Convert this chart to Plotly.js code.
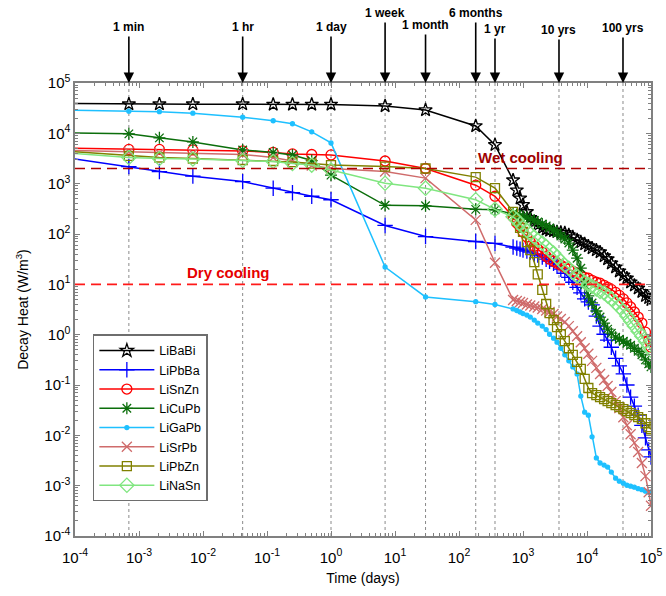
<!DOCTYPE html>
<html>
<head>
<meta charset="utf-8">
<script src="https://cdn.plot.ly/plotly-3.0.1.min.js"></script>
<style>
  html, body { margin: 0; padding: 0; background: #ffffff; }
  #chart { width: 666px; height: 596px; }
</style>
</head>
<body>
<div id="chart"></div>
<script>
// Decay heat after shutdown for eight lithium alloy breeders (W/m^3 vs days)

// Sample times in days: 1 s, 1 min, 3 min, 10 min, 1 h, 3 h, 6 h, 12 h, 1 d, 1 wk, 1 mo, 6 mo, 1 yr, then long-term
const TIME_DAYS = [
  1.157e-5, 6.944e-4, 2.083e-3, 6.944e-3, 0.04167, 0.125, 0.25, 0.5, 1, 7, 30, 182.5, 365,
  700, 800, 900, 1000, 1150, 1300, 1500, 1700, 2000, 2300, 2600, 3000, 3400, 3900, 4500,
  5200, 6000, 7000, 8000, 9200, 10500, 12000, 14000, 16000, 18500, 21000, 24000, 28000,
  32000, 37000, 42000, 48000, 55000, 63000, 72000, 82000, 92000, 100000
];

const LIBABI = [
  40000, 38000, 38000, 38000, 38000, 37500, 37500, 37500, 37500, 35000, 29000, 14000, 5900,
  1175, 741, 513, 380, 275, 209, 174, 151, 132, 123, 117, 115, 110, 107, 105,
  95.5, 87.1, 75.9, 69.2, 63.1, 57.5, 52.5, 47.9, 43.7, 36.3, 31.6, 26.3, 21.9,
  18.2, 15.1, 13.2, 11.0, 9.55, 8.32, 7.08, 5.89, 5.37, 4.90
];

const LIPBBA = [
  4600, 2190, 1740, 1410, 1100, 813, 661, 562, 479, 148, 89, 71, 65,
  55, 52.5, 50.1, 47.9, 45.7, 43.7, 39.8, 38.0, 34.7, 31.6, 28.8, 26.3, 22.9, 20.0, 16.6,
  13.8, 11.0, 8.71, 6.76, 5.13, 4.47, 3.89, 2.34, 1.48, 1.02, 0.776, 0.562, 0.339,
  0.240, 0.166, 0.100, 0.0575, 0.0380, 0.0251, 0.0158, 0.00891, 0.00513, 0.00372
];

const LISNZN = [
  5250, 4790, 4790, 4680, 4470, 4170, 3890, 3800, 3720, 2820, 2000, 933, 562,
  219, 166, 138, 110, 87.1, 69.2, 57.5, 50.1, 43.7, 36.3, 31.6, 28.8, 26.3, 24.0, 21.9,
  20.0, 18.2, 16.6, 15.1, 13.8, 13.2, 12.0, 11.0, 10.5, 9.55, 8.71, 7.94, 6.92,
  6.03, 5.13, 4.27, 3.55, 2.82, 2.24, 1.70, 1.12, 0.776, 0.562
];

const LICUPB = [
  10700, 9770, 8130, 6760, 4680, 4170, 3720, 2880, 1480, 372, 363, 309, 302,
  257, 245, 234, 224, 214, 200, 186, 174, 158, 145, 132, 120, 105, 91.2, 79.4,
  66.1, 47.9, 33.1, 20.9, 9.77, 5.89, 4.27, 2.95, 2.24, 1.70, 1.29, 1.07, 0.891,
  0.813, 0.741, 0.676, 0.617, 0.537, 0.468, 0.398, 0.316, 0.263, 0.229
];

const LIGAPB = [
  30000, 27500, 26900, 25100, 20900, 17800, 15500, 10700, 6460, 22.1, 5.62, 4.52, 3.98,
  3.24, 3.02, 2.82, 2.63, 2.45, 2.24, 1.95, 1.70, 1.48, 1.26, 1.02, 0.851, 0.708, 0.537, 0.398,
  0.302, 0.229, 0.166, 0.0603, 0.0288, 0.0251, 0.00933, 0.00355, 0.00282, 0.00257, 0.00234, 0.00186,
  0.00141, 0.00123, 0.00112, 0.00102, 0.000977, 0.000933, 0.000871, 0.000832, 0.000776, 0.000741, 0.000741
];

const LISRPB = [
  4900, 4270, 4070, 3980, 3800, 3310, 2820, 2290, 2000, 1740, 1290, 191, 26.9,
  4.90, 4.68, 4.47, 4.27, 3.98, 3.80, 3.63, 3.47, 3.24, 3.02, 2.82, 2.57, 2.29, 2.04, 1.78,
  1.48, 1.17, 0.933, 0.708, 0.537, 0.417, 0.302, 0.219, 0.166, 0.126, 0.0955, 0.0724, 0.0479,
  0.0347, 0.0229, 0.0158, 0.0105, 0.00708, 0.00468, 0.00282, 0.00155, 0.000741, 0.000398
];

const LIPBZN = [
  5200, 3550, 3310, 3160, 2950, 2820, 2690, 2510, 2340, 2190, 2000, 1350, 813,
  275, 182, 132, 110, 69.2, 47.9, 27.5, 15.8, 7.76, 4.07, 2.69, 1.95, 1.41, 1.02, 0.741,
  0.537, 0.398, 0.288, 0.209, 0.132, 0.0871, 0.0692, 0.0631, 0.0575, 0.0525, 0.0479, 0.0437,
  0.0398, 0.0363, 0.0331, 0.0302, 0.0275, 0.0251, 0.0229, 0.0209, 0.0174, 0.0145, 0.0132
];

const LINASN = [
  4900, 3310, 3160, 3090, 2880, 2750, 2510, 2340, 1860, 1020, 813, 479, 309,
  219, 191, 158, 138, 120, 100, 87.1, 75.9, 66.1, 56.2, 47.9, 41.7, 34.7, 28.8, 24.0,
  20.9, 17.4, 14.5, 12.6, 11.0, 10.0, 9.12, 8.13, 7.24, 6.76, 5.89, 5.13, 4.27,
  3.55, 2.95, 2.34, 1.86, 1.48, 1.17, 0.933, 0.741, 0.589, 0.490
];

const SERIES_NAMES = ['LiBaBi', 'LiPbBa', 'LiSnZn', 'LiCuPb', 'LiGaPb', 'LiSrPb', 'LiPbZn', 'LiNaSn'];

// Reference times marked along the top of the plot
const MARK_LABELS = ['1 min', '1 hr', '1 day', '1 week', '1 month', '6 months', '1 yr', '10 yrs', '100 yrs'];
const MARK_DAYS = [6.944e-4, 0.04167, 1, 7, 30, 182.5, 365, 3650, 36500];

// Cooling limits (W/m^3)
const WET_COOLING = 2000;
const DRY_COOLING = 10;

const TICK_VALUES = [1e-4, 1e-3, 1e-2, 1e-1, 1, 10, 100, 1e3, 1e4, 1e5];
const TICK_TEXT = ['10<sup>-4</sup>', '10<sup>-3</sup>', '10<sup>-2</sup>', '10<sup>-1</sup>', '10<sup>0</sup>',
                   '10<sup>1</sup>', '10<sup>2</sup>', '10<sup>3</sup>', '10<sup>4</sup>', '10<sup>5</sup>'];

// ---- styling ----
const FONT = 'Liberation Sans, Arial, Helvetica, sans-serif';
const styles = [
  { color: '#000000', symbol: 'star-open', size: 10 },
  { color: '#0000ff', symbol: 'cross-thin-open', size: 11 },
  { color: '#ff0000', symbol: 'circle-open', size: 10 },
  { color: '#0b6e0b', symbol: 'asterisk-open', size: 10 },
  { color: '#1ec0ff', symbol: 'circle', size: 4 },
  { color: '#cf6b6b', symbol: 'x-thin-open', size: 10 },
  { color: '#808000', symbol: 'square-open', size: 9 },
  { color: '#80e680', symbol: 'diamond-open', size: 11 }
];
const seriesValues = [LIBABI, LIPBBA, LISNZN, LICUPB, LIGAPB, LISRPB, LIPBZN, LINASN];

const traces = SERIES_NAMES.map((name, i) => ({
  type: 'scatter',
  mode: 'lines+markers',
  name: name,
  x: TIME_DAYS,
  y: seriesValues[i],
  line: { color: styles[i].color, width: 1.5 },
  marker: {
    symbol: styles[i].symbol,
    size: styles[i].size,
    color: styles[i].color,
    line: { color: styles[i].color, width: 1.3 }
  }
}));

// shapes take plain data values on the log axes
const shapes = [];
MARK_DAYS.forEach(d => {
  shapes.push({
    type: 'line', xref: 'x', yref: 'paper',
    x0: d, x1: d, y0: 0, y1: 1,
    line: { color: '#8a8a8a', width: 1, dash: '3px,3px' },
    layer: 'below'
  });
});
shapes.push({
  type: 'line', xref: 'paper', yref: 'y', x0: 0, x1: 1,
  y0: WET_COOLING, y1: WET_COOLING,
  line: { color: '#b00000', width: 1.6, dash: '10px,6px' }, layer: 'above'
});
shapes.push({
  type: 'line', xref: 'paper', yref: 'y', x0: 0, x1: 1,
  y0: DRY_COOLING, y1: DRY_COOLING,
  line: { color: '#ff1a1a', width: 1.6, dash: '10px,6px' }, layer: 'above'
});

// vertical offset (px) of each marker label above the frame
const labelLift = [-56, -56, -56, -70, -58, -70, -54, -53, -55];
const annotations = MARK_LABELS.map((txt, i) => ({
  x: Math.log10(MARK_DAYS[i]), xref: 'x', y: 1, yref: 'paper',
  text: '<b>' + txt + '</b>',
  showarrow: true, ax: 0, ay: labelLift[i],
  arrowhead: 2, arrowsize: 1.3, arrowwidth: 1.6, arrowcolor: '#000000',
  standoff: 0, startstandoff: 1,
  font: { family: FONT, size: 12, color: '#000000' }
}));
annotations.push({
  x: 0.851, xref: 'paper', y: Math.log10(WET_COOLING), yref: 'y', yshift: 11,
  text: '<b>Wet cooling</b>', showarrow: false,
  font: { family: FONT, size: 15, color: '#a00000' }
});
annotations.push({
  x: 0.191, xref: 'paper', y: Math.log10(DRY_COOLING), yref: 'y', yshift: 12,
  text: '<b>Dry cooling</b>', showarrow: false,
  font: { family: FONT, size: 15, color: '#e60000' }
});

const axisCommon = {
  type: 'log',
  range: [-4, 5],
  tickmode: 'array',
  tickvals: TICK_VALUES,
  ticktext: TICK_TEXT,
  ticks: 'inside',
  ticklen: 5,
  tickwidth: 1,
  tickcolor: '#808080',
  showline: true,
  linecolor: '#808080',
  linewidth: 1.6,
  mirror: 'ticks',
  showgrid: false,
  zeroline: false,
  tickfont: { family: FONT, size: 15, color: '#000000' },
  minor: { ticks: 'inside', ticklen: 3, tickcolor: '#808080', dtick: 'D1', showgrid: false }
};

const layout = {
  width: 666,
  height: 596,
  margin: { l: 75, r: 15, t: 83, b: 60 },
  paper_bgcolor: '#ffffff',
  plot_bgcolor: '#ffffff',
  font: { family: FONT, color: '#000000' },
  showlegend: true,
  legend: {
    x: 0.031, y: 0.445, xanchor: 'left', yanchor: 'top',
    bgcolor: '#ffffff', bordercolor: '#6e6e6e', borderwidth: 1.5,
    font: { family: FONT, size: 12.5, color: '#000000' },
    itemwidth: 55, tracegroupgap: 0
  },
  xaxis: Object.assign({}, axisCommon, {
    title: { text: 'Time (days)', font: { family: FONT, size: 14 }, standoff: 8 },
    ticklabelstandoff: 7,
    automargin: false
  }),
  yaxis: Object.assign({}, axisCommon, {
    title: { text: 'Decay Heat (W/m<sup>3</sup>)', font: { family: FONT, size: 14 }, standoff: 12 },
    automargin: false
  }),
  shapes: shapes,
  annotations: annotations
};

Plotly.newPlot('chart', traces, layout, { displayModeBar: false, staticPlot: true });
</script>
</body>
</html>
